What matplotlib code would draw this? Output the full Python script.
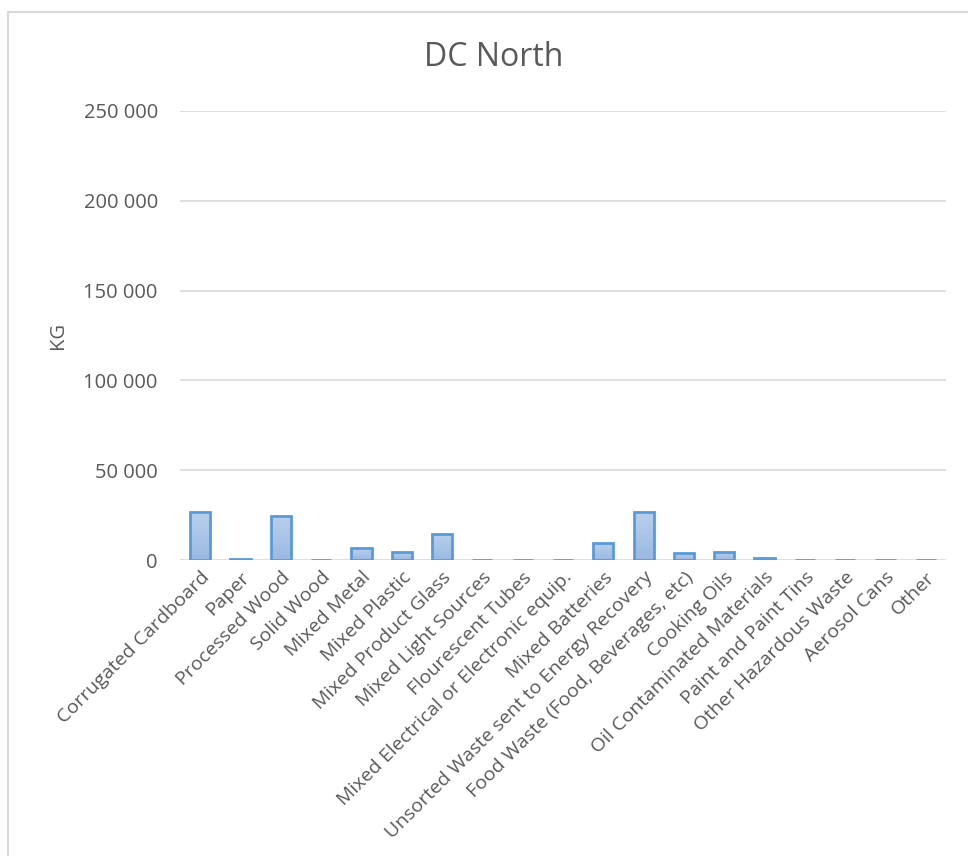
import numpy as np
import matplotlib.pyplot as plt
from matplotlib.patches import Rectangle
from matplotlib.colors import LinearSegmentedColormap

categories = ["Corrugated Cardboard", "Paper", "Processed Wood", "Solid Wood",
              "Mixed Metal", "Mixed Plastic", "Mixed Product Glass",
              "Mixed Light Sources", "Flourescent Tubes",
              "Mixed Electrical or Electronic equip.", "Mixed Batteries",
              "Unsorted Waste sent to Energy Recovery",
              "Food Waste (Food, Beverages, etc)", "Cooking Oils",
              "Oil Contaminated Materials", "Paint and Paint Tins",
              "Other Hazardous Waste", "Aerosol Cans", "Other"]
kg = [26500, 300, 24600, 0, 6600, 4600, 14500, 200, 200, 200, 9600,
      26800, 3700, 4700, 900, 200, 200, 200, 200]
yticks = [0, 50000, 100000, 150000, 200000, 250000]
ytick_labels = ["0", "50 000", "100 000", "150 000", "200 000", "250 000"]

W, H = 968, 856
fig = plt.figure(figsize=(W / 100, H / 100), dpi=100)
plt.rcParams['font.family'] = ['Open Sans', 'DejaVu Sans']
grey = "#595959"

# chart border (only left/top visible in the crop)
fig.patches.append(Rectangle((8 / W, -0.1), 2, 1 - 12 / H + 0.1,
                             transform=fig.transFigure, fill=False,
                             edgecolor="#d9d9d9", linewidth=1.5))

ax = fig.add_axes([180 / W, 1 - 560 / H, (946 - 180) / W, (560 - 111) / H])
x = np.arange(len(categories))
bars = ax.bar(x, kg, width=0.5, facecolor="none", edgecolor="#5b9bd5",
              linewidth=2, zorder=3)
grad = np.linspace(0, 1, 100).reshape(-1, 1)
cmap = LinearSegmentedColormap.from_list("g", ["#9ab9e3", "#b9d0ec"])
for b in bars:
    if b.get_height() <= 0:
        continue
    x0, y0 = b.get_x(), b.get_y()
    im = ax.imshow(grad, extent=[x0, x0 + b.get_width(), y0, y0 + b.get_height()],
                   cmap=cmap, aspect="auto", origin="lower", zorder=2)
    im.set_clip_path(b)

ax.set_xlim(-0.5, len(categories) - 0.5)
ax.set_ylim(0, 250000)
ax.set_yticks(yticks)
ax.set_yticklabels(ytick_labels, fontsize=14.5, color=grey)
ax.set_xticks(x)
ax.set_xticklabels(categories, rotation=45, ha="right", rotation_mode="anchor",
                   fontsize=14, color=grey)
ax.tick_params(axis="y", length=0, pad=16)
ax.tick_params(axis="x", length=0, pad=6)
ax.grid(axis="y", color="#d9d9d9", linewidth=1.2, zorder=0)
for s in ax.spines.values():
    s.set_visible(False)
ax.set_ylabel("KG", fontsize=14.5, color=grey)
ax.yaxis.set_label_coords(-0.146, 0.5)

fig.text(494 / W, 1 - 57 / H, "DC North", ha="center", va="center",
         fontsize=23, color=grey)

fig.savefig("out.png", dpi=100)
